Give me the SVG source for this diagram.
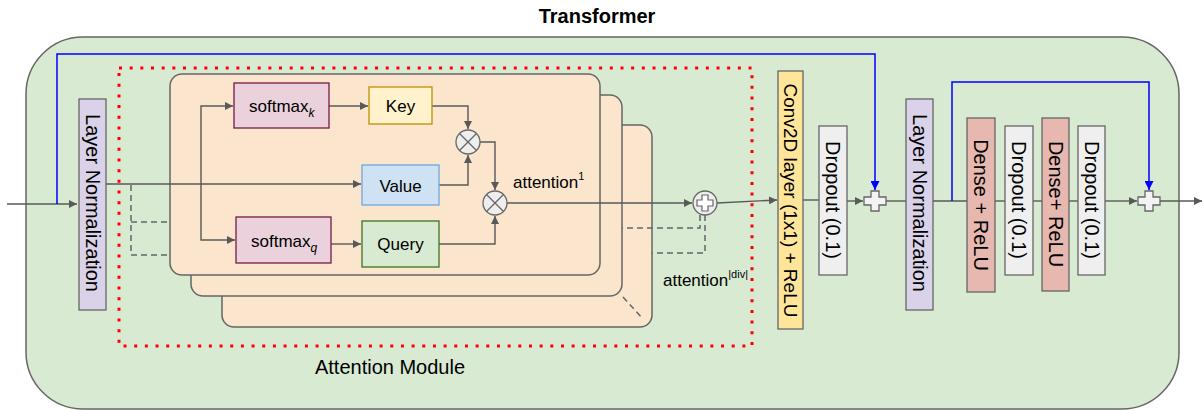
<svg xmlns="http://www.w3.org/2000/svg" width="1203" height="410" viewBox="0 0 1203 410">
<style>
text{font-family:"Liberation Sans",Arial,sans-serif;fill:#000}
.box{stroke:#666;stroke-width:1.3}
.ln{fill:#d9d2e9}
.drop{fill:#efefef}
.dense{fill:#e6b8af}
.card{fill:#fce5cd;stroke:#666;stroke-width:1.5}
.c{fill:none;stroke:#595959;stroke-width:1.4}
.blue{fill:none;stroke:#0000ff;stroke-width:1.5}
.dash{fill:none;stroke:#666;stroke-width:1.5;stroke-dasharray:6 4}
.vt{font-size:20px;text-anchor:middle;dominant-baseline:central}
.lbl{font-size:17px}
.mid{text-anchor:middle;dominant-baseline:central}
.op{fill:#eeeeee;stroke:#666;stroke-width:1.3}
.cross{fill:#f3f3f3;stroke:#666;stroke-width:1.3}
</style>
<defs>
<marker id="ag" viewBox="0 0 10 10" refX="10" refY="5" markerWidth="8" markerHeight="8" markerUnits="userSpaceOnUse" orient="auto"><path d="M0,0L10,5L0,10z" fill="#595959"/></marker>
<marker id="ab" viewBox="0 0 10 10" refX="10" refY="5" markerWidth="9" markerHeight="9" markerUnits="userSpaceOnUse" orient="auto"><path d="M0,0L10,5L0,10z" fill="#0000ff"/></marker>
</defs>

<text x="597" y="23" font-size="20" font-weight="bold" text-anchor="middle">Transformer</text>

<g id="transformer-bg">
<rect x="26" y="37" width="1153" height="372" rx="57" fill="#d9ead3" stroke="#666" stroke-width="1.5"/>
</g>

<g id="attention-module">
<rect x="119" y="68" width="633" height="278" fill="none" stroke="#ff0000" stroke-width="3" stroke-dasharray="3 7.67"/>
<text x="390" y="374" font-size="20" text-anchor="middle">Attention Module</text>
</g>

<g id="cards">
<rect class="card" x="222" y="125" width="430" height="202" rx="12"/>
<rect class="card" x="191" y="95" width="431" height="201" rx="12"/>
<rect class="card" x="170" y="74" width="430" height="201" rx="12"/>
</g>

<g id="connectors">
<path class="c" d="M7,204H77" marker-end="url(#ag)"/>
<path class="c" d="M106,184H361" marker-end="url(#ag)"/>
<path class="c" d="M201,184V106H233" marker-end="url(#ag)"/>
<path class="c" d="M201,184V240H235" marker-end="url(#ag)"/>
<path class="c" d="M329,106H368" marker-end="url(#ag)"/>
<path class="c" d="M331,244H361" marker-end="url(#ag)"/>
<path class="c" d="M432,106H468V129" marker-end="url(#ag)"/>
<path class="c" d="M439,185H468V155" marker-end="url(#ag)"/>
<path class="c" d="M480,142H495V190" marker-end="url(#ag)"/>
<path class="c" d="M439,244H495V216" marker-end="url(#ag)"/>
<path class="c" d="M507,203H692" marker-end="url(#ag)"/>
<path class="c" d="M717,203L777,200" marker-end="url(#ag)"/>
<path class="c" d="M803,200H819"/>
<path class="c" d="M847,201H863" marker-end="url(#ag)"/>
<path class="c" d="M886,201H906"/>
<path class="c" d="M933,201H967"/>
<path class="c" d="M995,201H1005"/>
<path class="c" d="M1033,201H1042"/>
<path class="c" d="M1069,201H1078"/>
<path class="c" d="M1105,201H1137" marker-end="url(#ag)"/>
<path class="c" d="M1160,201H1202" marker-end="url(#ag)"/>
<path class="dash" d="M131,185V255H170M131,222H170"/>
<path class="dash" d="M700,215V228H622M705,215V253H652"/>
<path class="dash" d="M623,297L643,319"/>
<path class="blue" d="M57,204V54H875V190" marker-end="url(#ab)"/>
<path class="blue" d="M952,201V82H1149V190" marker-end="url(#ab)"/>
</g>

<g id="layer-norm-1">
<rect class="box ln" x="79" y="99" width="27" height="211"/>
<text class="vt" transform="rotate(90 92.5 203)" x="92.5" y="203">Layer Normalization</text>
</g>

<g id="softmax-k">
<rect x="234" y="83" width="95" height="45" fill="#ead1dc" stroke="#741b47" stroke-width="1.3"/>
<text class="lbl" x="249" y="112">softmax<tspan font-size="12" font-style="italic" dy="5">k</tspan></text>
</g>
<g id="key">
<rect x="369" y="87" width="63" height="37" fill="#fff2cc" stroke="#bf9000" stroke-width="1.3"/>
<text class="lbl mid" x="400.5" y="106">Key</text>
</g>
<g id="value">
<rect x="362" y="165" width="77" height="40" fill="#cfe2f3" stroke="#6fa8dc" stroke-width="1.3"/>
<text class="lbl mid" x="400.5" y="186">Value</text>
</g>
<g id="softmax-q">
<rect x="236" y="217" width="95" height="46" fill="#ead1dc" stroke="#741b47" stroke-width="1.3"/>
<text class="lbl" x="251" y="247">softmax<tspan font-size="12" font-style="italic" dy="5">q</tspan></text>
</g>
<g id="query">
<rect x="362" y="221" width="77" height="46" fill="#d9ead3" stroke="#38761d" stroke-width="1.3"/>
<text class="lbl mid" x="400.5" y="244">Query</text>
</g>

<g id="mult-1">
<circle class="op" cx="468" cy="142" r="12"/>
<path d="M459.5,133.5L476.5,150.5M476.5,133.5L459.5,150.5" stroke="#666" stroke-width="1.3"/>
</g>
<g id="mult-2">
<circle class="op" cx="495" cy="203" r="12"/>
<path d="M486.5,194.5L503.5,211.5M503.5,194.5L486.5,211.5" stroke="#666" stroke-width="1.3"/>
</g>
<g id="sum">
<circle class="op" cx="705" cy="203" r="12"/>
<path d="M702,195h6v5h5v6h-5v5h-6v-5h-5v-6h5z" fill="#fff" stroke="#666" stroke-width="1.2"/>
</g>

<g id="labels">
<text class="lbl" x="513" y="188">attention<tspan font-size="11" dy="-8">1</tspan></text>
<text class="lbl" x="663" y="286">attention<tspan font-size="11" dy="-8">|div|</tspan></text>
</g>

<g id="conv2d">
<rect class="box" x="778" y="71" width="25" height="258" fill="#ffe599"/>
<text class="vt" font-size="19" style="font-size:19px" transform="rotate(90 790.5 200.5)" x="790.5" y="200.5">Conv2D layer (1x1) + ReLU</text>
</g>
<g id="dropout-1">
<rect class="box drop" x="819" y="126" width="28" height="149"/>
<text class="vt" transform="rotate(90 833 200)" x="833" y="200">Dropout (0.1)</text>
</g>
<g id="add-1">
<path class="cross" d="M871,191h8v6h7v8h-7v6h-8v-6h-7v-8h7z"/>
</g>
<g id="layer-norm-2">
<rect class="box ln" x="906" y="99" width="27" height="211"/>
<text class="vt" transform="rotate(90 919.5 203)" x="919.5" y="203">Layer Normalization</text>
</g>
<g id="dense-1">
<rect class="box dense" x="967" y="118" width="28" height="174"/>
<text class="vt" transform="rotate(90 981 205)" x="981" y="205">Dense + ReLU</text>
</g>
<g id="dropout-2">
<rect class="box drop" x="1005" y="126" width="28" height="149"/>
<text class="vt" transform="rotate(90 1019 200)" x="1019" y="200">Dropout (0.1)</text>
</g>
<g id="dense-2">
<rect class="box dense" x="1042" y="118" width="27" height="173"/>
<text class="vt" transform="rotate(90 1055.5 204)" x="1055.5" y="204">Dense+ ReLU</text>
</g>
<g id="dropout-3">
<rect class="box drop" x="1078" y="126" width="27" height="149"/>
<text class="vt" transform="rotate(90 1091.5 200)" x="1091.5" y="200">Dropout (0.1)</text>
</g>
<g id="add-2">
<path class="cross" d="M1145,191h8v6h7v8h-7v6h-8v-6h-7v-8h7z"/>
</g>
</svg>
